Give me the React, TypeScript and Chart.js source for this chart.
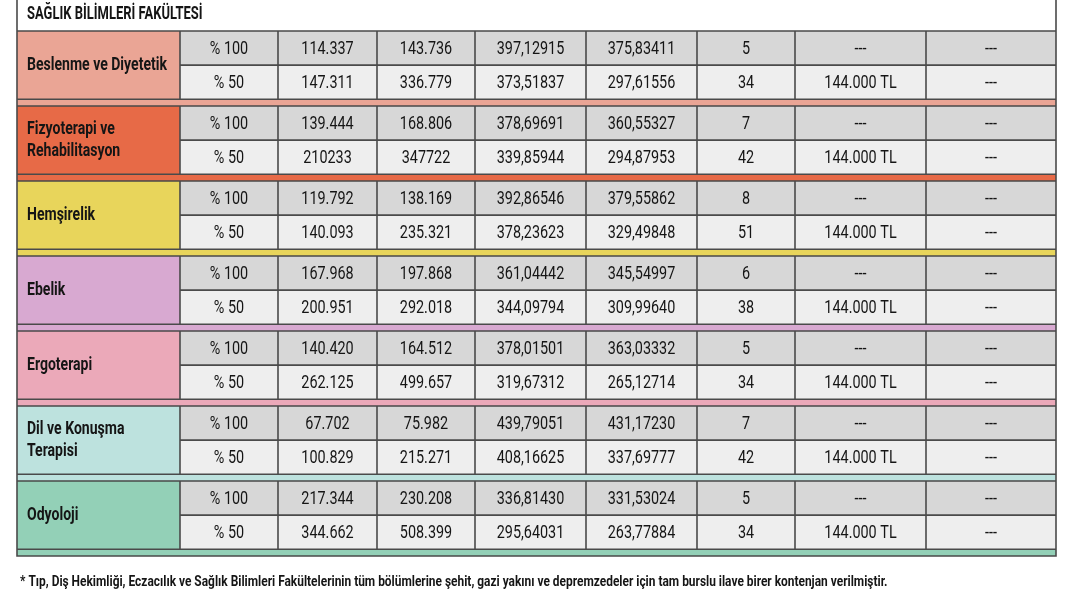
import React, { useEffect, useRef } from 'react';
import { Chart, registerables } from 'chart.js';

Chart.register(...registerables);

const headerTitle = 'SAĞLIK BİLİMLERİ FAKÜLTESİ';
const footnote =
  '* Tıp, Diş Hekimliği, Eczacılık ve Sağlık Bilimleri Fakültelerinin tüm bölümlerine şehit, gazi yakını ve depremzedeler için tam burslu ilave birer kontenjan verilmiştir.';

const departments = [
  'Beslenme ve Diyetetik',
  'Fizyoterapi ve\nRehabilitasyon',
  'Hemşirelik',
  'Ebelik',
  'Ergoterapi',
  'Dil ve Konuşma\nTerapisi',
  'Odyoloji',
];
const deptColors = ['#eaa595', '#e76a47', '#e8d55b', '#d8a9d1', '#eba9b9', '#bde2de', '#93d0b7'];

const quotaTypes = ['% 100', '% 50'];

// values per department: [% 100 row, % 50 row]
const rankA = [
  '114.337', '147.311', '139.444', '210233', '119.792', '140.093', '167.968', '200.951',
  '140.420', '262.125', '67.702', '100.829', '217.344', '344.662',
];
const rankB = [
  '143.736', '336.779', '168.806', '347722', '138.169', '235.321', '197.868', '292.018',
  '164.512', '499.657', '75.982', '215.271', '230.208', '508.399',
];
const scoreA = [
  '397,12915', '373,51837', '378,69691', '339,85944', '392,86546', '378,23623', '361,04442', '344,09794',
  '378,01501', '319,67312', '439,79051', '408,16625', '336,81430', '295,64031',
];
const scoreB = [
  '375,83411', '297,61556', '360,55327', '294,87953', '379,55862', '329,49848', '345,54997', '309,99640',
  '363,03332', '265,12714', '431,17230', '337,69777', '331,53024', '263,77884',
];
const quota = ['5', '34', '7', '42', '8', '51', '6', '38', '5', '34', '7', '42', '5', '34'];
const fee = ['---', '144.000 TL', '---', '144.000 TL', '---', '144.000 TL', '---', '144.000 TL', '---', '144.000 TL', '---', '144.000 TL', '---', '144.000 TL'];
const extra = ['---', '---', '---', '---', '---', '---', '---', '---', '---', '---', '---', '---', '---', '---'];

const valueColumns = [rankA, rankB, scoreA, scoreB, quota, fee, extra];

// layout (column widths in x-scale units, rows in y-scale units)
const colWidths = [163, 98, 99, 98, 111, 111, 98, 131, 130];
const ROW = 1;
const GAP = 0.2;
const BLOCK = 2 * ROW + GAP;

const LINE = '#4a4a4a';
const ROW1_BG = '#d7d7d7';
const ROW2_BG = '#eeeeee';
const FONT = 'Roboto, "DejaVu Sans", sans-serif';

function drawText(
  ctx: CanvasRenderingContext2D,
  text: string,
  x: number,
  y: number,
  font: string,
  sx: number,
  align: CanvasTextAlign,
  color = '#151515'
) {
  ctx.save();
  ctx.translate(x, y);
  ctx.scale(sx, 1);
  ctx.font = font;
  ctx.fillStyle = color;
  ctx.textAlign = align;
  ctx.textBaseline = 'middle';
  ctx.fillText(text, 0, 0);
  ctx.restore();
}

const tablePlugin = {
  id: 'tablePlugin',
  beforeDraw(chart: any) {
    const { ctx, width, height } = chart;
    ctx.save();
    ctx.fillStyle = '#ffffff';
    ctx.fillRect(0, 0, width, height);
    ctx.restore();
  },
  afterDraw(chart: any) {
    const { ctx, chartArea } = chart;
    const xs = chart.scales.x;
    const ys = chart.scales.y;
    const X = (v: number) => xs.getPixelForValue(v);
    const Y = (v: number) => ys.getPixelForValue(v);
    const edges: number[] = [0];
    colWidths.forEach((w) => edges.push(edges[edges.length - 1] + w));
    const xEnd = X(edges[edges.length - 1]);
    const xStart = X(0);

    ctx.save();
    departments.forEach((dept, b) => {
      const top = b * BLOCK;
      const y0 = Y(top);
      const y1 = Y(top + ROW);
      const y2 = Y(top + 2 * ROW);
      const y3 = Y(top + BLOCK);
      const xd = X(edges[1]);
      // fills
      ctx.fillStyle = deptColors[b];
      ctx.fillRect(xStart, y0, xd - xStart, y2 - y0);
      ctx.fillRect(xStart, y2, xEnd - xStart, y3 - y2);
      ctx.fillStyle = ROW1_BG;
      ctx.fillRect(xd, y0, xEnd - xd, y1 - y0);
      ctx.fillStyle = ROW2_BG;
      ctx.fillRect(xd, y1, xEnd - xd, y2 - y1);

      // lines
      ctx.strokeStyle = LINE;
      ctx.lineWidth = 1.6;
      ctx.beginPath();
      ctx.moveTo(xStart, y0);
      ctx.lineTo(xEnd, y0);
      ctx.moveTo(xStart, y2);
      ctx.lineTo(xEnd, y2);
      ctx.moveTo(xd, y1);
      ctx.lineTo(xEnd, y1);
      for (let i = 1; i < edges.length - 1; i++) {
        const xx = X(edges[i]);
        ctx.moveTo(xx, y0);
        ctx.lineTo(xx, y2);
      }
      ctx.stroke();

      // department name
      const lines = dept.split('\n');
      const cy = (y0 + y2) / 2;
      const lh = 22;
      lines.forEach((ln, i) => {
        const ty = cy + (i - (lines.length - 1) / 2) * lh;
        drawText(ctx, ln, xStart + 10, ty, `bold 18px ${FONT}`, 0.78, 'left');
      });

      // rows
      quotaTypes.forEach((q, r) => {
        const ya = Y(top + r * ROW);
        const yb = Y(top + (r + 1) * ROW);
        const ty = (ya + yb) / 2 + 1;
        const idx = b * 2 + r;
        const cells = [q, ...valueColumns.map((col) => col[idx])];
        cells.forEach((txt, c) => {
          const cx = (X(edges[c + 1]) + X(edges[c + 2])) / 2;
          drawText(ctx, txt, cx, ty, `18px ${FONT}`, 0.8, 'center');
        });
      });
    });

    // outer border
    const yBottom = Y(departments.length * BLOCK);
    ctx.strokeStyle = LINE;
    ctx.lineWidth = 1.6;
    ctx.beginPath();
    ctx.moveTo(xStart, 0);
    ctx.lineTo(xStart, yBottom);
    ctx.lineTo(xEnd, yBottom);
    ctx.lineTo(xEnd, 0);
    ctx.stroke();

    // header
    drawText(ctx, headerTitle, xStart + 10, chartArea.top / 2 - 1, `bold 18px ${FONT}`, 0.72, 'left');

    // footnote
    drawText(ctx, footnote, xStart + 3, yBottom + 26, `bold 15px ${FONT}`, 0.795, 'left');
    ctx.restore();
  },
};

export default function App() {
  const ref = useRef<HTMLCanvasElement | null>(null);

  useEffect(() => {
    if (!ref.current) return;
    const total = colWidths.reduce((a, b) => a + b, 0);
    const centers = departments.flatMap((_, b) =>
      quotaTypes.map((_, r) => ({ x: colWidths[0] / 2, y: b * BLOCK + r * ROW + ROW / 2 }))
    );
    const chart = new Chart(ref.current, {
      type: 'scatter',
      data: {
        datasets: [
          {
            data: centers,
            pointRadius: 0,
            pointHoverRadius: 0,
          },
        ],
      },
      options: {
        animation: false,
        responsive: false,
        events: [],
        layout: { padding: { left: 17, right: 12, top: 31, bottom: 54 } },
        plugins: { legend: { display: false }, tooltip: { enabled: false }, title: { display: false } },
        scales: {
          x: { type: 'linear', min: 0, max: total, display: false },
          y: { type: 'linear', min: 0, max: departments.length * BLOCK, reverse: true, display: false },
        },
      },
      plugins: [tablePlugin],
    });
    return () => chart.destroy();
  }, []);

  return (
    <div style={{ position: 'absolute', left: 0, top: 0, width: 1068, height: 610 }}>
      <canvas ref={ref} width={1068} height={610} style={{ width: 1068, height: 610 }} />
    </div>
  );
}
